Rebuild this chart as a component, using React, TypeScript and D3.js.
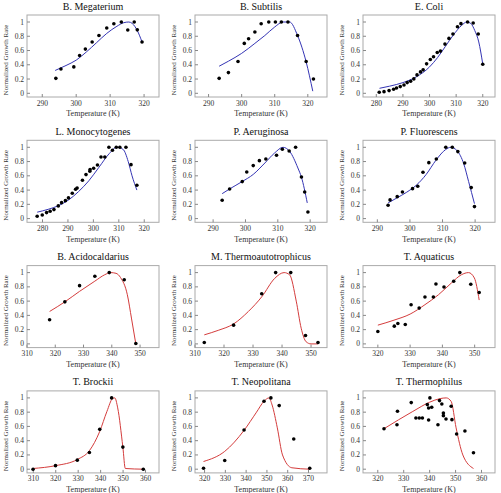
import React from "react";
import * as d3 from "d3";

const W = 501;
const H = 493;

const titles = ["B. Megaterium", "B. Subtilis", "E. Coli", "L. Monocytogenes", "P. Aeruginosa", "P. Fluorescens", "B. Acidocaldarius", "M. Thermoautotrophicus", "T. Aquaticus", "T. Brockii", "T. Neopolitana", "T. Thermophilus"];
const fitColors = ["blue", "blue", "blue", "blue", "blue", "blue", "red", "red", "red", "red", "red", "red"];
const xDomains = [[285.5, 324.4], [285.9, 325.8], [275, 324.6], [273.9, 325.8], [284.4, 325.2], [285.6, 326.1], [310, 356.7], [310, 355.5], [315.4, 356.3], [307.2, 366], [315.4, 378.9], [314.3, 365.2]];
const xTicks = [[290, 300, 310, 320], [290, 300, 310, 320], [280, 290, 300, 310, 320], [280, 290, 300, 310, 320], [290, 300, 310, 320], [290, 300, 310, 320], [310, 320, 330, 340, 350], [310, 320, 330, 340, 350], [320, 330, 340, 350], [310, 320, 330, 340, 350, 360], [320, 330, 340, 350, 360, 370], [320, 330, 340, 350, 360]];
const yTicks = [0, 0.2, 0.4, 0.6, 0.8, 1];

// B. Megaterium
const megT = [294.0, 295.5, 299.3, 301.0, 302.7, 304.7, 306.7, 309.0, 311.1, 313.3, 315.2, 317.1, 318.0, 319.4];
const megR = [0.21, 0.34, 0.37, 0.53, 0.62, 0.72, 0.81, 0.915, 0.975, 1.0, 0.887, 1.0, 0.89, 0.72];
const megFitT = [293.8, 297, 300, 303, 306, 309, 312, 314, 315.5, 316.5, 318, 319.4];
const megFitR = [0.32, 0.39, 0.465, 0.58, 0.71, 0.84, 0.94, 0.99, 1.0, 0.98, 0.88, 0.72];
// B. Subtilis
const subT = [293.2, 296.0, 298.9, 300.8, 302.1, 304.0, 305.9, 308.2, 310.2, 312.0, 314.0, 316.9, 319.5, 321.7];
const subR = [0.21, 0.29, 0.445, 0.7, 0.765, 0.86, 0.975, 1, 1, 1, 1, 0.81, 0.445, 0.2];
const subFitT = [293.2, 296, 300, 304, 307, 310, 312.5, 314.5, 316.9, 319.5, 321.5];
const subFitR = [0.38, 0.45, 0.56, 0.7, 0.81, 0.93, 1.0, 1.0, 0.81, 0.44, 0.03];
// E. Coli
const coliT = [281.1, 282.9, 284.8, 286.5, 287.6, 289.0, 290.4, 291.6, 292.9, 294.1, 295.3, 296.6, 297.6, 298.9, 300.3, 301.5, 302.9, 304.1, 305.8, 307.3, 308.8, 310.5, 311.8, 314.3, 316.4, 318.3, 320.0];
const coliR = [0.014, 0.023, 0.038, 0.056, 0.075, 0.094, 0.117, 0.15, 0.169, 0.202, 0.258, 0.3, 0.329, 0.413, 0.474, 0.512, 0.573, 0.592, 0.69, 0.77, 0.831, 0.934, 0.977, 1.0, 0.986, 0.831, 0.408];
const coliFitT = [281.2, 285, 290, 295, 300, 303, 306, 309, 312, 314, 315.5, 317, 318.5, 320];
const coliFitR = [0.07, 0.1, 0.15, 0.23, 0.37, 0.5, 0.66, 0.82, 0.95, 1.0, 0.98, 0.88, 0.72, 0.41];
// L. Monocytogenes
const monoT = [277.9, 279.9, 281.6, 283.0, 284.5, 286.2, 287.5, 289.0, 290.2, 291.7, 293.0, 293.6, 295.7, 297.1, 298.6, 298.7, 300.1, 301.6, 303.0, 304.5, 306.1, 307.5, 309.0, 310.4, 312.8, 314.8, 317.1];
const monoR = [0.033, 0.051, 0.084, 0.103, 0.126, 0.178, 0.224, 0.252, 0.29, 0.355, 0.411, 0.43, 0.537, 0.617, 0.664, 0.687, 0.706, 0.752, 0.864, 0.864, 1.0, 0.958, 1.0, 1.0, 1.0, 0.757, 0.467];
const monoFitT = [277.9, 282.2, 286.2, 290.2, 294.2, 298.2, 302.2, 306.2, 309.2, 311.7, 313.7, 315.2, 317.1];
const monoFitR = [0.09, 0.13, 0.18, 0.26, 0.38, 0.53, 0.72, 0.91, 1.0, 0.97, 0.8, 0.6, 0.4];
// P. Aeruginosa
const aerT = [292.8, 295.1, 299.0, 300.4, 302.4, 304.3, 306.3, 309.6, 311.4, 313.5, 315.5, 317.3, 318.3, 319.3];
const aerR = [0.257, 0.416, 0.519, 0.654, 0.743, 0.813, 0.836, 0.888, 0.972, 0.949, 1.0, 0.584, 0.374, 0.093];
const aerFitT = [292.8, 295.1, 299, 302.4, 306, 309, 311.6, 313.7, 316.2, 317.3, 319.1];
const aerFitR = [0.35, 0.416, 0.52, 0.62, 0.78, 0.92, 1.0, 0.94, 0.71, 0.58, 0.22];
// P. Fluorescens
const fluT = [293.3, 293.9, 296.1, 297.7, 300.8, 302.4, 304.0, 305.8, 308.1, 311.0, 313.0, 314.7, 316.8, 318.8, 319.8];
const fluR = [0.187, 0.262, 0.308, 0.374, 0.42, 0.453, 0.65, 0.785, 0.836, 1.0, 1.0, 0.94, 0.78, 0.435, 0.168];
const fluFitT = [293.3, 296, 299, 302, 305, 308, 311, 312.5, 314.5, 316.5, 318, 319.8];
const fluFitR = [0.22, 0.29, 0.37, 0.47, 0.62, 0.82, 0.97, 1.0, 0.95, 0.77, 0.52, 0.21];
// B. Acidocaldarius
const acidT = [318.0, 323.4, 328.6, 334.0, 339.1, 344.4, 348.5];
const acidR = [0.338, 0.59, 0.817, 0.948, 1.0, 0.9, 0.005];
const acidFitT = [318.0, 323.4, 328.6, 334, 337.5, 339.6, 341.5, 343.1, 345.5, 347, 348.5];
const acidFitR = [0.455, 0.59, 0.737, 0.88, 0.97, 1.0, 0.99, 0.93, 0.69, 0.35, 0.0];
// M. Thermoautotrophicus
const metT = [313.2, 323.3, 333.0, 337.8, 343.0, 348.1, 352.4];
const metR = [0.019, 0.263, 0.704, 1.0, 1.0, 0.117, 0.019];
const metFitT = [313.2, 318, 323.3, 328.4, 333, 337.5, 340.7, 342.6, 344.9, 346.6, 348.3, 350, 352.4];
const metFitR = [0.127, 0.19, 0.28, 0.455, 0.66, 0.92, 1.0, 0.97, 0.6, 0.22, 0.03, 0.0, 0.0];
// T. Aquaticus
const aquT = [320.0, 325.1, 326.2, 328.5, 330.3, 332.8, 334.6, 337.2, 338.0, 340.5, 343.5, 345.4, 348.8, 351.4];
const aquR = [0.174, 0.249, 0.286, 0.272, 0.549, 0.502, 0.657, 0.657, 0.84, 0.798, 0.878, 1.0, 0.836, 0.72];
const aquFitT = [320, 325, 330, 334.6, 338.8, 342.8, 345.9, 348.1, 349.9, 351.4];
const aquFitR = [0.263, 0.333, 0.418, 0.55, 0.69, 0.855, 0.97, 1.0, 0.925, 0.615];
// T. Brockii
const broT = [309.9, 319.9, 329.6, 335.0, 339.6, 344.9, 349.9, 359.0];
const broR = [0.0, 0.05, 0.127, 0.235, 0.559, 1.0, 0.31, 0.0];
const broFitT = [309.9, 320, 329.6, 335, 339.6, 342.8, 345.3, 346.3, 347.6, 349.9, 351, 359];
const broFitR = [0.01, 0.05, 0.136, 0.26, 0.53, 0.81, 0.99, 1.0, 0.86, 0.31, 0.01, 0.0];
// T. Neopolitana
const neoT = [319.5, 329.7, 339.0, 348.6, 351.9, 355.9, 362.9, 370.6];
const neoR = [0.014, 0.122, 0.549, 0.953, 1.0, 0.892, 0.423, 0.014];
const neoFitT = [319.5, 329.7, 339, 345, 348.6, 351, 352.5, 355, 357.5, 362, 370.6];
const neoFitR = [0.108, 0.25, 0.545, 0.8, 0.953, 1.0, 0.9, 0.58, 0.2, 0.02, 0.0];
// T. Thermophilus
const therT = [322.4, 327.4, 327.6, 332.9, 334.7, 336.0, 337.2, 339.1, 339.6, 339.6, 340.1, 340.8, 343.2, 343.8, 344.7, 345.3, 345.3, 346.3, 348.3, 348.6, 350.4, 353.6, 356.9];
const therR = [0.568, 0.624, 0.812, 0.934, 0.718, 0.718, 0.718, 0.906, 0.859, 0.69, 1.0, 0.869, 0.624, 0.962, 0.915, 0.789, 0.751, 0.704, 0.883, 0.695, 0.493, 0.535, 0.23];
const therFitT = [322.4, 333.5, 340, 344, 346.4, 348.3, 350.2, 352.8, 356.9];
const therFitR = [0.568, 0.81, 0.94, 0.99, 1.0, 0.95, 0.58, 0.2, 0.01];

const pointT = [megT, subT, coliT, monoT, aerT, fluT, acidT, metT, aquT, broT, neoT, therT];
const pointR = [megR, subR, coliR, monoR, aerR, fluR, acidR, metR, aquR, broR, neoR, therR];
const fitT = [megFitT, subFitT, coliFitT, monoFitT, aerFitT, fluFitT, acidFitT, metFitT, aquFitT, broFitT, neoFitT, therFitT];
const fitR = [megFitR, subFitR, coliFitR, monoFitR, aerFitR, fluFitR, acidFitR, metFitR, aquFitR, broFitR, neoFitR, therFitR];

const colorMap: Record<string, string> = { blue: "#3434b4", red: "#d43c3c" };
const FONT = "'Liberation Serif', 'Times New Roman', serif";

function Panel({ i }: { i: number }) {
  const r = Math.floor(i / 3);
  const c = i % 3;
  const left = 27 + c * 168;
  const right = left + 132;
  const y1 = 22 + r * 125.3;
  const y0 = y1 + 71.3;
  const top = y1 - 7;
  const bottom = y0 + 3.7;
  const x = d3.scaleLinear().domain(xDomains[i]).range([left, right]);
  const y = d3.scaleLinear().domain([0, 1]).range([y0, y1]);
  const line = d3
    .line<number>()
    .x((_, k) => x(fitT[i][k]))
    .y((d) => y(d))
    .curve(d3.curveMonotoneX);
  const midX = (left + right) / 2;
  return (
    <g>
      <text x={midX} y={top - 5.5} textAnchor="middle" fontSize={10} fontFamily={FONT} fill="#111">
        {titles[i]}
      </text>
      <rect x={left} y={top} width={right - left} height={bottom - top} fill="none" stroke="#aaa" strokeWidth={1} />
      {xTicks[i].map((t) => (
        <g key={"x" + t}>
          <line x1={x(t)} x2={x(t)} y1={bottom} y2={bottom - 3} stroke="#888" />
          <text x={x(t)} y={bottom + 8.5} textAnchor="middle" fontSize={7.5} fontFamily={FONT} fill="#333">
            {t}
          </text>
        </g>
      ))}
      {yTicks.map((t) => (
        <g key={"y" + t}>
          <line x1={left} x2={left + 3} y1={y(t)} y2={y(t)} stroke="#888" />
          <text x={left - 3} y={y(t) + 2.5} textAnchor="end" fontSize={7.5} fontFamily={FONT} fill="#333">
            {t}
          </text>
        </g>
      ))}
      <text x={midX} y={y0 + 23} textAnchor="middle" fontSize={8} fontFamily={FONT} fill="#333">
        Temperature (K)
      </text>
      <text
        transform={`translate(${left - 19},${(top + bottom) / 2 + 4}) rotate(-90)`}
        textAnchor="middle"
        fontSize={7}
        fontFamily={FONT}
        fill="#333"
      >
        Normalized Growth Rate
      </text>
      <path d={line(fitR[i]) || ""} fill="none" stroke={colorMap[fitColors[i]]} strokeWidth={1} />
      {pointT[i].map((t, k) => (
        <circle key={k} cx={x(t)} cy={y(pointR[i][k])} r={1.8} fill="#000" />
      ))}
    </g>
  );
}

export default function App() {
  return (
    <svg width={W} height={H} style={{ position: "absolute", left: 0, top: 0, background: "#fff" }}>
      <rect width={W} height={H} fill="#fff" />
      {titles.map((_, i) => (
        <Panel key={i} i={i} />
      ))}
    </svg>
  );
}
